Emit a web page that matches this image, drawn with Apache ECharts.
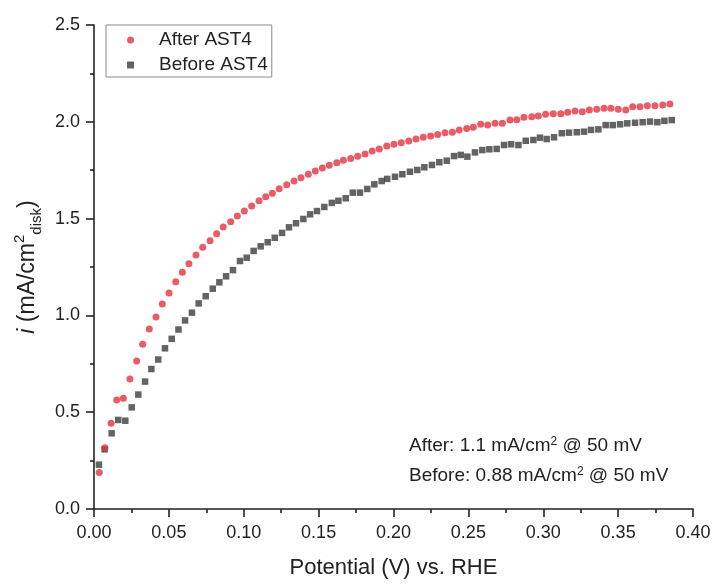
<!DOCTYPE html>
<html>
<head>
<meta charset="utf-8">
<script src="https://cdn.jsdelivr.net/npm/echarts@6/dist/echarts.min.js"></script>
<style>
html,body{margin:0;padding:0;background:#fff;}
#chart{width:714px;height:584px;}
</style>
</head>
<body>
<div id="chart"></div>
<script>
// Potential (V) vs. RHE and current i (mA/cm^2 disk)
var afterV = [0.0035,0.0073,0.0114,0.0152,0.0196,0.0240,0.0285,0.0325,0.0369,0.0414,0.0456,0.0501,0.0546,0.0590,0.0634,0.0681,0.0726,0.0775,0.0819,0.0863,0.0913,0.0957,0.1004,0.1053,0.1102,0.1147,0.1191,0.1237,0.1287,0.1336,0.1382,0.1431,0.1478,0.1525,0.1571,0.1621,0.1665,0.1714,0.1761,0.1810,0.1858,0.1905,0.1955,0.2003,0.2052,0.2102,0.2150,0.2199,0.2248,0.2295,0.2344,0.2393,0.2439,0.2489,0.2533,0.2582,0.2629,0.2678,0.2727,0.2778,0.2823,0.2871,0.2923,0.2967,0.3016,0.3067,0.3117,0.3163,0.3212,0.3261,0.3308,0.3357,0.3406,0.3452,0.3501,0.3551,0.3597,0.3646,0.3695,0.3746,0.3798,0.3846];
var afterI = [0.188,0.317,0.443,0.563,0.572,0.671,0.764,0.851,0.930,0.992,1.059,1.116,1.174,1.223,1.267,1.312,1.352,1.386,1.422,1.457,1.484,1.513,1.539,1.565,1.592,1.613,1.631,1.654,1.675,1.694,1.711,1.729,1.746,1.761,1.775,1.789,1.801,1.811,1.822,1.834,1.849,1.860,1.875,1.884,1.892,1.901,1.911,1.920,1.927,1.935,1.944,1.946,1.958,1.966,1.972,1.987,1.983,1.992,1.992,2.009,2.011,2.023,2.026,2.030,2.039,2.042,2.042,2.049,2.056,2.052,2.061,2.065,2.070,2.070,2.065,2.061,2.078,2.078,2.083,2.083,2.087,2.092];
var beforeV = [0.0033,0.0071,0.0118,0.0162,0.0209,0.0252,0.0296,0.0341,0.0383,0.0429,0.0474,0.0519,0.0564,0.0608,0.0654,0.0699,0.0746,0.0793,0.0837,0.0882,0.0928,0.0975,0.1020,0.1066,0.1113,0.1160,0.1207,0.1256,0.1302,0.1349,0.1398,0.1443,0.1489,0.1538,0.1588,0.1632,0.1681,0.1728,0.1776,0.1825,0.1872,0.1921,0.1958,0.2010,0.2059,0.2110,0.2159,0.2206,0.2257,0.2306,0.2356,0.2404,0.2449,0.2493,0.2544,0.2593,0.2640,0.2689,0.2738,0.2785,0.2834,0.2883,0.2934,0.2978,0.3023,0.3072,0.3124,0.3172,0.3224,0.3272,0.3319,0.3368,0.3417,0.3464,0.3513,0.3561,0.3613,0.3664,0.3713,0.3762,0.3809,0.3858];
var beforeI = [0.229,0.308,0.391,0.460,0.456,0.525,0.591,0.658,0.723,0.772,0.830,0.879,0.927,0.974,1.014,1.062,1.099,1.138,1.171,1.202,1.234,1.281,1.298,1.333,1.357,1.378,1.401,1.426,1.455,1.476,1.498,1.522,1.539,1.560,1.581,1.592,1.605,1.634,1.634,1.653,1.677,1.694,1.705,1.716,1.729,1.742,1.751,1.765,1.777,1.791,1.799,1.823,1.829,1.820,1.842,1.854,1.858,1.860,1.880,1.884,1.880,1.902,1.906,1.918,1.911,1.920,1.941,1.944,1.946,1.949,1.958,1.961,1.983,1.983,1.987,1.992,1.995,1.998,2.001,1.998,2.005,2.009];
var seriesNames = ['After AST4', 'Before AST4'];
var annotationLines = ['After: 1.1 mA/cm{sup|2} @ 50 mV', 'Before: 0.88 mA/cm{sup|2} @ 50 mV'];

function zip(a, b) { return a.map(function (v, i) { return [v, b[i]]; }); }

var FONT = 'Liberation Sans';
var INK = '#222';
var chart = echarts.init(document.getElementById('chart'), null, {renderer: 'canvas'});
var axisLineStyle = {color: INK, width: 1.6};

chart.setOption({
  backgroundColor: '#fff',
  animation: false,
  grid: {left: 94, right: 21, top: 25, bottom: 75, containLabel: false},
  xAxis: {
    type: 'value', min: 0, max: 0.4, interval: 0.05,
    name: 'Potential (V) vs. RHE', nameLocation: 'middle', nameGap: 48,
    nameTextStyle: {fontFamily: FONT, fontSize: 22, color: INK},
    axisLine: {show: true, lineStyle: axisLineStyle},
    axisTick: {show: true, inside: false, length: 8, lineStyle: axisLineStyle},
    minorTick: {show: true, splitNumber: 2, length: 4, lineStyle: axisLineStyle},
    splitLine: {show: false}, minorSplitLine: {show: false},
    axisLabel: {margin: 15, fontFamily: FONT, fontSize: 18, color: INK,
      formatter: function (v) { return v.toFixed(2); }}
  },
  yAxis: {
    type: 'value', min: 0, max: 2.5, interval: 0.5,
    name: '{it|i} (mA/cm{sup|2}{sub|disk})', nameLocation: 'middle', nameGap: 50, nameRotate: 90,
    nameTextStyle: {fontFamily: FONT, fontSize: 23, color: INK, lineHeight: 32,
      rich: {
        it: {fontFamily: FONT, fontSize: 23, fontStyle: 'italic', color: INK, lineHeight: 32},
        sup: {fontFamily: FONT, fontSize: 15, color: INK, verticalAlign: 'top', lineHeight: 20},
        sub: {fontFamily: FONT, fontSize: 15, color: INK, verticalAlign: 'bottom', lineHeight: 16}
      }},
    axisLine: {show: true, lineStyle: axisLineStyle},
    axisTick: {show: true, inside: false, length: 8, lineStyle: axisLineStyle},
    minorTick: {show: true, splitNumber: 2, length: 4, lineStyle: axisLineStyle},
    splitLine: {show: false}, minorSplitLine: {show: false},
    axisLabel: {margin: 14, fontFamily: FONT, fontSize: 18, color: INK,
      formatter: function (v) { return v.toFixed(1); }}
  },
  legend: {
    data: seriesNames, orient: 'vertical', left: 106, top: 25,
    itemWidth: 7, itemHeight: 7, itemGap: 5,
    padding: [5, 4, 2, 21],
    borderColor: '#8a8a8a', borderWidth: 1,
    formatter: function (name) { return '{gap|}' + name; },
    textStyle: {fontFamily: FONT, fontSize: 19, color: INK, lineHeight: 20,
      rich: {gap: {width: 20, lineHeight: 20}}}
  },
  graphic: [
    {type: 'text', left: 409, top: 436, style: {text: annotationLines[0], font: '19px ' + FONT, fill: INK,
      rich: {sup: {fontSize: 12, fontFamily: FONT, fill: INK, verticalAlign: 'top', lineHeight: 12}}}},
    {type: 'text', left: 409, top: 466, style: {text: annotationLines[1], font: '19px ' + FONT, fill: INK,
      rich: {sup: {fontSize: 12, fontFamily: FONT, fill: INK, verticalAlign: 'top', lineHeight: 12}}}}
  ],
  series: [
    {name: seriesNames[0], type: 'scatter', symbol: 'circle', symbolSize: 7,
      itemStyle: {color: '#e5333f'}, data: zip(afterV, afterI), z: 3},
    {name: seriesNames[1], type: 'scatter', symbol: 'rect', symbolSize: 6.5,
      itemStyle: {color: '#3c3c3c'}, data: zip(beforeV, beforeI), z: 2}
  ]
});
</script>
</body>
</html>
